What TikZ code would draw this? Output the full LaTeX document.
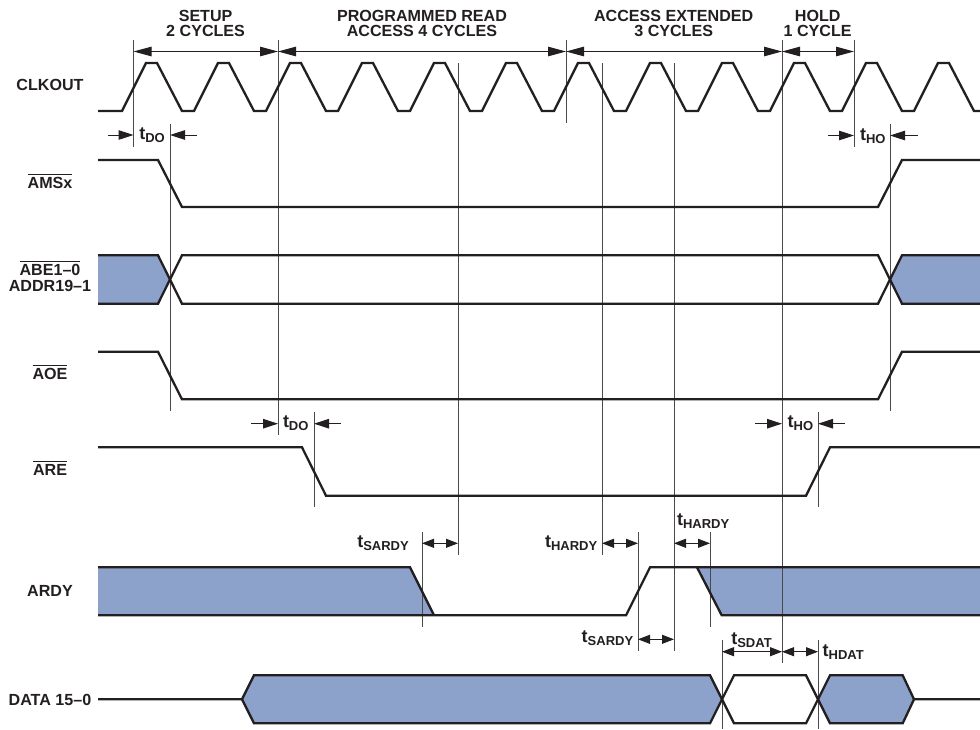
\documentclass[tikz,border=0pt]{standalone}
\usepackage{fontspec}
\setmainfont{Liberation Sans}
\usetikzlibrary{arrows.meta}
\definecolor{ink}{HTML}{231F20}
\definecolor{guide}{HTML}{4A4A4C}
\definecolor{busfill}{HTML}{8DA2CB}
\newcommand{\barred}[1]{\leavevmode\vbox{\hrule height 1pt \kern1.6pt\hbox{#1}}}
\newcommand{\tlab}[1]{\fontsize{18}{18}\selectfont\bfseries t\raisebox{-3.4pt}{\fontsize{13}{13}\selectfont #1}}
\tikzset{
  x=1pt,y=-1pt,
  sig/.style={draw=ink,line width=2.3pt,line join=miter},
  bus/.style={fill=busfill,draw=none},
  guideline/.style={draw=guide,line width=1pt},
  headerdim/.style={draw=ink,line width=1pt,{Triangle[length=18pt,width=9.5pt]}-{Triangle[length=18pt,width=9.5pt]}},
  smalldim/.style={draw=ink,line width=1pt,{Triangle[length=12pt,width=9pt]}-{Triangle[length=12pt,width=9pt]}},
  pointer/.style={draw=ink,line width=1pt,-{Triangle[length=15pt,width=9.5pt]}},
  lab/.style={font=\fontsize{16.1}{16.1}\selectfont\bfseries,text=ink,anchor=base,inner sep=0pt,outer sep=0pt},
  tl/.style={text=ink,anchor=base west,inner sep=0pt,outer sep=0pt}
}
\begin{document}
\begin{tikzpicture}
\useasboundingbox (0,0) rectangle (980,729);
% fills
\fill[bus] (98,255.3) -- (158,255.3) -- (170,279.5) -- (158,303.7) -- (98,303.7) -- cycle;
\fill[bus] (980,255.3) -- (902,255.3) -- (890,279.5) -- (902,303.7) -- (980,303.7) -- cycle;
\fill[bus] (98,567.3) -- (410,567.3) -- (434,615.3) -- (98,615.3) -- cycle;
\fill[bus] (980,567.3) -- (697,567.3) -- (721.7,615.3) -- (980,615.3) -- cycle;
\fill[bus] (242,699.3) -- (254,675.3) -- (710,675.3) -- (722,699.3) -- (710,723.3) -- (254,723.3) -- cycle;
\fill[bus] (818,699.3) -- (830,675.3) -- (902.7,675.3) -- (914,699.3) -- (902.7,723.3) -- (830,723.3) -- cycle;
% guide line ends
\coordinate (a1) at (133.5,40);  \coordinate (a2) at (133.5,147);
\coordinate (b1) at (170,124);   \coordinate (b2) at (170,411);
\coordinate (c1) at (278,40);    \coordinate (c2) at (278,435);
\coordinate (d1) at (314,412);   \coordinate (d2) at (314,507);
\coordinate (e1) at (422,532);   \coordinate (e2) at (422,627);
\coordinate (f1) at (458,63);    \coordinate (f2) at (458,555);
\coordinate (g1) at (566,40);    \coordinate (g2) at (566,123);
\coordinate (h1) at (602,63);    \coordinate (h2) at (602,555);
\coordinate (i1) at (638,532);   \coordinate (i2) at (638,651);
\coordinate (j1) at (674,63);    \coordinate (j2) at (674,651);
\coordinate (k1) at (710,532);   \coordinate (k2) at (710,627);
\coordinate (l1) at (722,640);   \coordinate (l2) at (722,729);
\coordinate (m1) at (782,40);    \coordinate (m2) at (782,663);
\coordinate (n1) at (818,412);   \coordinate (n2) at (818,507);
\coordinate (o1) at (818,640);   \coordinate (o2) at (818,729);
\coordinate (p1) at (854,40);    \coordinate (p2) at (854,147);
\coordinate (q1) at (890,124);   \coordinate (q2) at (890,411);
\foreach \g in {a,b,c,d,e,f,g,h,i,j,k,l,m,n,o,p,q}{\draw[guideline] (\g1) -- (\g2);}
% signals
\draw[sig] (98,111) -- (122,111) foreach \k in {0,...,10}{ -- ++(24,-48) -- ++(11,0) -- ++(25,48) -- ++(12,0)} -- ++(24,-48) -- ++(11,0) -- ++(25,48) -- ++(6,0);
\draw[sig] (98,160) -- (158,160) -- (182,207) -- (878,207) -- (902,160) -- (980,160);
\draw[sig] (98,255.3) -- (158,255.3) -- (182,303.7) -- (878,303.7) -- (902,255.3) -- (980,255.3);
\draw[sig] (98,303.7) -- (158,303.7) -- (182,255.3) -- (878,255.3) -- (902,303.7) -- (980,303.7);
\draw[sig] (98,351.7) -- (158,351.7) -- (182,399.3) -- (878,399.3) -- (902,351.7) -- (980,351.7);
\draw[sig] (98,447.3) -- (302,447.3) -- (326,495.7) -- (806,495.7) -- (830,447.3) -- (980,447.3);
\draw[sig] (98,567.3) -- (410,567.3) -- (434,615.3);
\draw[sig] (98,615.3) -- (626,615.3) -- (650,567.3) -- (980,567.3);
\draw[sig] (697,567.3) -- (721.7,615.3) -- (980,615.3);
\draw[sig] (98,699.3) -- (242,699.3) -- (254,675.3) -- (710,675.3) -- (734,723.3) -- (806,723.3) -- (830,675.3) -- (902.7,675.3) -- (914,699.3) -- (980,699.3);
\draw[sig] (242,699.3) -- (254,723.3) -- (710,723.3) -- (734,675.3) -- (806,675.3) -- (830,723.3) -- (902.7,723.3) -- (914,699.3);
% header dimensions
\coordinate (ha) at (133.5,51.5); \coordinate (hb) at (278,51.5); \coordinate (hc) at (566,51.5); \coordinate (hd) at (782,51.5); \coordinate (he) at (854,51.5);
\draw[headerdim] (ha) -- (hb);
\draw[headerdim] (hb) -- (hc);
\draw[headerdim] (hc) -- (hd);
\draw[headerdim] (hd) -- (he);
% pointer dimensions
\coordinate (p1a) at (107.7,135); \coordinate (p1b) at (133.5,135); \coordinate (p1c) at (197,135); \coordinate (p1d) at (170,135);
\draw[pointer] (p1a) -- (p1b); \draw[pointer] (p1c) -- (p1d);
\coordinate (p2a) at (251,423.7); \coordinate (p2b) at (278,423.7); \coordinate (p2c) at (340.7,423.7); \coordinate (p2d) at (314,423.7);
\draw[pointer] (p2a) -- (p2b); \draw[pointer] (p2c) -- (p2d);
\coordinate (p3a) at (828,135.5); \coordinate (p3b) at (854,135.5); \coordinate (p3c) at (917.7,135.5); \coordinate (p3d) at (890,135.5);
\draw[pointer] (p3a) -- (p3b); \draw[pointer] (p3c) -- (p3d);
\coordinate (p4a) at (755,423.7); \coordinate (p4b) at (782,423.7); \coordinate (p4c) at (844.7,423.7); \coordinate (p4d) at (818,423.7);
\draw[pointer] (p4a) -- (p4b); \draw[pointer] (p4c) -- (p4d);
% small dimensions
\coordinate (s1a) at (422,543.3); \coordinate (s1b) at (458,543.3);
\coordinate (s2a) at (602,543.3); \coordinate (s2b) at (638,543.3);
\coordinate (s3a) at (674,543.3); \coordinate (s3b) at (710,543.3);
\coordinate (s4a) at (638,639.3); \coordinate (s4b) at (674,639.3);
\coordinate (s5a) at (722,651.7); \coordinate (s5b) at (782,651.7); \coordinate (s5c) at (818,651.7);
\draw[smalldim] (s1a) -- (s1b);
\draw[smalldim] (s2a) -- (s2b);
\draw[smalldim] (s3a) -- (s3b);
\draw[smalldim] (s4a) -- (s4b);
\draw[smalldim] (s5a) -- (s5b);
\draw[smalldim] (s5b) -- (s5c);
% header text
\node[lab] (h1a) at (205.6,21) {SETUP};
\node[lab] (h1b) at (205.6,36.7) {2 CYCLES};
\node[lab] (h2a) at (422,21) {PROGRAMMED READ};
\node[lab] (h2b) at (422,36.7) {ACCESS 4 CYCLES};
\node[lab] (h3a) at (673.7,21) {ACCESS EXTENDED};
\node[lab] (h3b) at (673.7,36.7) {3 CYCLES};
\node[lab] (h4a) at (817.7,21) {HOLD};
\node[lab] (h4b) at (817.7,36.7) {1 CYCLE};
% signal names
\node[lab] (nclk) at (50,90.7) {CLKOUT};
\node[lab] (nams) at (50,188.3) {\barred{AMSx}};
\node[lab] (nabe) at (50,275.3) {\barred{ABE1–0}};
\node[lab] (nadd) at (50,291.7) {ADDR19–1};
\node[lab] (naoe) at (50,379.3) {\barred{AOE}};
\node[lab] (nare) at (50,475) {\barred{ARE}};
\node[lab] (nrdy) at (50,596) {ARDY};
\node[lab] (ndat) at (50,705.7) {DATA 15–0};
% timing labels
\node[tl] (t1) at (139.3,139.5) {\tlab{DO}};
\node[tl] (t2) at (860,140) {\tlab{HO}};
\node[tl] (t3) at (283,427.5) {\tlab{DO}};
\node[tl] (t4) at (787.7,427) {\tlab{HO}};
\node[tl] (t5) at (357.3,547) {\tlab{SARDY}};
\node[tl] (t6) at (545,547) {\tlab{HARDY}};
\node[tl] (t7) at (677,525.5) {\tlab{HARDY}};
\node[tl] (t8) at (581.7,642) {\tlab{SARDY}};
\node[tl] (t9) at (731.3,644.5) {\tlab{SDAT}};
\node[tl] (t10) at (822.7,656) {\tlab{HDAT}};
\end{tikzpicture}
\end{document}
